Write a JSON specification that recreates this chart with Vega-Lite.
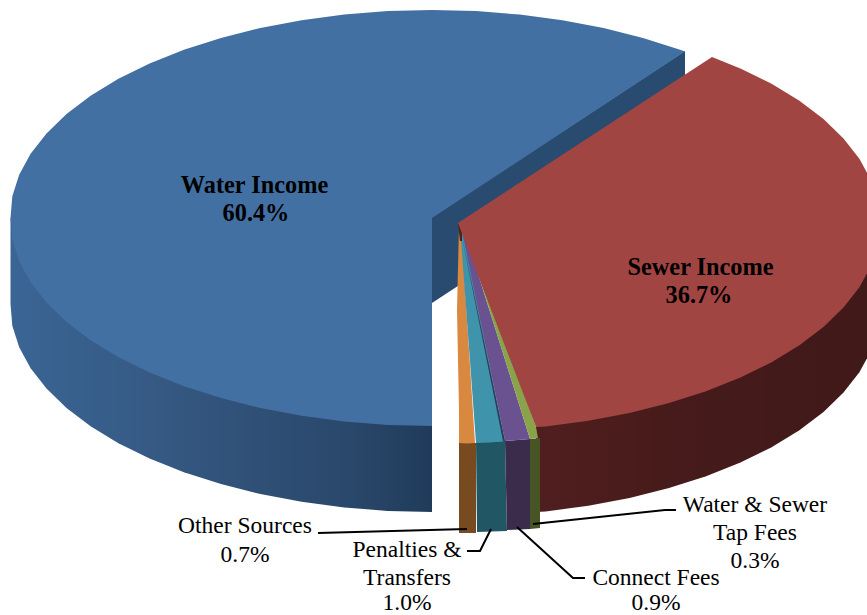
{
"$schema":"https://vega.github.io/schema/vega-lite/v6.json",
"width":867,"height":615,"padding":0,"autosize":{"type":"none"},"background":"white",
"config":{"view":{"stroke":null}},
"datasets":{
"blueSide":[
{"i":0,"x":10.5,"y":218},{"i":1,"x":10.5,"y":304},{"i":2,"x":12.3,"y":325.7},{"i":3,"x":19.2,"y":347.2},{"i":4,"x":30.6,"y":368.3},{"i":5,"x":46.5,"y":388.6},{"i":6,"x":66.5,"y":408},{"i":7,"x":90.6,"y":426.3},{"i":8,"x":118.4,"y":443.2},{"i":9,"x":149.6,"y":458.6},{"i":10,"x":183.9,"y":472.3},{"i":11,"x":221,"y":484.1},{"i":12,"x":260.4,"y":494},{"i":13,"x":301.6,"y":501.8},{"i":14,"x":344.3,"y":507.4},{"i":15,"x":387.9,"y":510.9},{"i":16,"x":432,"y":512},{"i":17,"x":432,"y":400}],
"redSide":[
{"i":0,"x":536,"y":400},{"i":1,"x":536,"y":512},{"i":2,"x":545.7,"y":511.4},{"i":3,"x":588.4,"y":505.8},{"i":4,"x":629.6,"y":498},{"i":5,"x":669,"y":488.1},{"i":6,"x":706.1,"y":476.3},{"i":7,"x":740.4,"y":462.6},{"i":8,"x":771.6,"y":447.2},{"i":9,"x":799.4,"y":430.3},{"i":10,"x":823.5,"y":412},{"i":11,"x":843.5,"y":392.6},{"i":12,"x":859.4,"y":372.3},{"i":13,"x":870.8,"y":351.2},{"i":14,"x":877.7,"y":329.7},{"i":15,"x":880,"y":308},{"i":16,"x":880,"y":223}],
"faces":[
{"face":"water wall","i":0,"x":432,"y":217},{"face":"water wall","i":1,"x":685,"y":51},{"face":"water wall","i":2,"x":685,"y":137},{"face":"water wall","i":3,"x":432,"y":303},
{"face":"water top","i":0,"x":432,"y":218},{"face":"water top","i":1,"x":685,"y":51.5},{"face":"water top","i":2,"x":680.1,"y":49.7},{"face":"water top","i":3,"x":643,"y":37.9},{"face":"water top","i":4,"x":603.6,"y":28},{"face":"water top","i":5,"x":562.4,"y":20.2},{"face":"water top","i":6,"x":519.7,"y":14.6},{"face":"water top","i":7,"x":476.1,"y":11.1},{"face":"water top","i":8,"x":432,"y":10},{"face":"water top","i":9,"x":387.9,"y":11.1},{"face":"water top","i":10,"x":344.3,"y":14.6},{"face":"water top","i":11,"x":301.6,"y":20.2},{"face":"water top","i":12,"x":260.4,"y":28},{"face":"water top","i":13,"x":221,"y":37.9},{"face":"water top","i":14,"x":183.9,"y":49.7},{"face":"water top","i":15,"x":149.6,"y":63.4},{"face":"water top","i":16,"x":118.4,"y":78.8},{"face":"water top","i":17,"x":90.6,"y":95.7},{"face":"water top","i":18,"x":66.5,"y":114},{"face":"water top","i":19,"x":46.5,"y":133.4},{"face":"water top","i":20,"x":30.6,"y":153.7},{"face":"water top","i":21,"x":19.2,"y":174.8},{"face":"water top","i":22,"x":12.3,"y":196.3},{"face":"water top","i":23,"x":10.5,"y":218},{"face":"water top","i":24,"x":12.3,"y":239.7},{"face":"water top","i":25,"x":19.2,"y":261.2},{"face":"water top","i":26,"x":30.6,"y":282.3},{"face":"water top","i":27,"x":46.5,"y":302.6},{"face":"water top","i":28,"x":66.5,"y":322},{"face":"water top","i":29,"x":90.6,"y":340.3},{"face":"water top","i":30,"x":118.4,"y":357.2},{"face":"water top","i":31,"x":149.6,"y":372.6},{"face":"water top","i":32,"x":183.9,"y":386.3},{"face":"water top","i":33,"x":221,"y":398.1},{"face":"water top","i":34,"x":260.4,"y":408},{"face":"water top","i":35,"x":301.6,"y":415.8},{"face":"water top","i":36,"x":344.3,"y":421.4},{"face":"water top","i":37,"x":387.9,"y":424.9},{"face":"water top","i":38,"x":432,"y":426},
{"face":"other side","i":0,"x":459,"y":443},{"face":"other side","i":1,"x":459,"y":533},{"face":"other side","i":2,"x":476,"y":533},{"face":"other side","i":3,"x":476,"y":443},
{"face":"penalties side","i":0,"x":476,"y":442},{"face":"penalties side","i":1,"x":477,"y":532},{"face":"penalties side","i":2,"x":507,"y":531},{"face":"penalties side","i":3,"x":505,"y":441},
{"face":"connect side","i":0,"x":505,"y":441},{"face":"connect side","i":1,"x":507,"y":530},{"face":"connect side","i":2,"x":530,"y":529},{"face":"connect side","i":3,"x":530,"y":439},
{"face":"tap side","i":0,"x":530,"y":439},{"face":"tap side","i":1,"x":530,"y":529},{"face":"tap side","i":2,"x":540,"y":528},{"face":"tap side","i":3,"x":540,"y":438},
{"face":"other top","i":0,"x":459,"y":226},{"face":"other top","i":1,"x":457,"y":310},{"face":"other top","i":2,"x":459,"y":410},{"face":"other top","i":3,"x":459,"y":443},{"face":"other top","i":4,"x":467,"y":443.5},{"face":"other top","i":5,"x":475,"y":443},{"face":"other top","i":6,"x":461,"y":226},
{"face":"penalties top","i":0,"x":460,"y":226},{"face":"penalties top","i":1,"x":476,"y":443},{"face":"penalties top","i":2,"x":490,"y":442.5},{"face":"penalties top","i":3,"x":505,"y":441},{"face":"penalties top","i":4,"x":462,"y":226},
{"face":"connect top","i":0,"x":461,"y":226},{"face":"connect top","i":1,"x":505,"y":441},{"face":"connect top","i":2,"x":518,"y":440},{"face":"connect top","i":3,"x":530,"y":439},{"face":"connect top","i":4,"x":463,"y":226},
{"face":"tap top","i":0,"x":463,"y":226},{"face":"tap top","i":1,"x":530,"y":439},{"face":"tap top","i":2,"x":538,"y":438},{"face":"tap top","i":3,"x":536,"y":427},
{"face":"seam","i":0,"x":461,"y":232},{"face":"seam","i":1,"x":505,"y":441},{"face":"seam","i":2,"x":503,"y":441},
{"face":"hub","i":0,"x":458,"y":224},{"face":"hub","i":1,"x":462,"y":226},{"face":"hub","i":2,"x":462,"y":241},{"face":"hub","i":3,"x":460,"y":241},
{"face":"sewer top","i":0,"x":458,"y":223},{"face":"sewer top","i":1,"x":712,"y":57},{"face":"sewer top","i":2,"x":740.4,"y":68.4},{"face":"sewer top","i":3,"x":771.6,"y":83.8},{"face":"sewer top","i":4,"x":799.4,"y":100.7},{"face":"sewer top","i":5,"x":823.5,"y":119},{"face":"sewer top","i":6,"x":843.5,"y":138.4},{"face":"sewer top","i":7,"x":859.4,"y":158.7},{"face":"sewer top","i":8,"x":870.8,"y":179.8},{"face":"sewer top","i":9,"x":877.7,"y":201.3},{"face":"sewer top","i":10,"x":880,"y":223},{"face":"sewer top","i":11,"x":877.7,"y":244.7},{"face":"sewer top","i":12,"x":870.8,"y":266.2},{"face":"sewer top","i":13,"x":859.4,"y":287.3},{"face":"sewer top","i":14,"x":843.5,"y":307.6},{"face":"sewer top","i":15,"x":823.5,"y":327},{"face":"sewer top","i":16,"x":799.4,"y":345.3},{"face":"sewer top","i":17,"x":771.6,"y":362.2},{"face":"sewer top","i":18,"x":740.4,"y":377.6},{"face":"sewer top","i":19,"x":706.1,"y":391.3},{"face":"sewer top","i":20,"x":669,"y":403.1},{"face":"sewer top","i":21,"x":629.6,"y":413},{"face":"sewer top","i":22,"x":588.4,"y":420.8},{"face":"sewer top","i":23,"x":545.7,"y":426.4},{"face":"sewer top","i":24,"x":536,"y":427}
],
"leaders":[
{"leader":"other","i":0,"x":318,"y":533},{"leader":"other","i":1,"x":467,"y":529},
{"leader":"penalties","i":0,"x":467,"y":551},{"leader":"penalties","i":1,"x":480,"y":551},{"leader":"penalties","i":2,"x":491,"y":529},
{"leader":"connect","i":0,"x":585,"y":578},{"leader":"connect","i":1,"x":573,"y":578},{"leader":"connect","i":2,"x":517,"y":527},
{"leader":"tap","i":0,"x":676,"y":510},{"leader":"tap","i":1,"x":665,"y":510},{"leader":"tap","i":2,"x":533,"y":524}
],
"insideLabels":[
{"text":"Water Income","x":254.5,"y":193},{"text":"60.4%","x":256,"y":221},
{"text":"Sewer Income","x":700.5,"y":275},{"text":"36.7%","x":699,"y":303}
],
"outsideLabels":[
{"text":"Other Sources","x":245,"y":533},{"text":"0.7%","x":245,"y":562},
{"text":"Penalties &","x":407,"y":557},{"text":"Transfers","x":407,"y":585},{"text":"1.0%","x":407,"y":610},
{"text":"Connect Fees","x":656,"y":585},{"text":"0.9%","x":656,"y":610},
{"text":"Water & Sewer","x":755,"y":512},{"text":"Tap Fees","x":755,"y":540},{"text":"0.3%","x":755,"y":568}
]
},
"encoding":{
"x":{"field":"x","type":"quantitative","axis":null,"scale":{"domain":[0,867],"nice":false,"zero":false}},
"y":{"field":"y","type":"quantitative","axis":null,"scale":{"domain":[0,615],"reverse":true,"nice":false,"zero":false}}
},
"layer":[
{"data":{"name":"blueSide"},
 "mark":{"type":"line","clip":true,"strokeWidth":0,"fill":{"gradient":"linear","x1":0,"x2":1,"y1":0,"y2":0,"stops":[{"offset":0,"color":"#3A6594"},{"offset":0.3,"color":"#365B86"},{"offset":0.6,"color":"#2F4F75"},{"offset":0.8,"color":"#2A486B"},{"offset":1,"color":"#203B5A"}]}},
 "encoding":{"order":{"field":"i"}}},
{"data":{"name":"redSide"},
 "mark":{"type":"line","clip":true,"strokeWidth":0,"fill":{"gradient":"linear","x1":0,"x2":1,"y1":0,"y2":0,"stops":[{"offset":0,"color":"#501E1E"},{"offset":0.5,"color":"#451A1A"},{"offset":1,"color":"#401919"}]}},
 "encoding":{"order":{"field":"i"}}},
{"data":{"name":"faces"},
 "mark":{"type":"line","clip":true,"filled":true,"strokeWidth":0},
 "encoding":{
  "order":{"field":"i"},
  "detail":{"field":"face"},
  "color":{"field":"face","type":"nominal","legend":null,"sort":null,"scale":{
   "domain":["water wall","water top","other side","penalties side","connect side","tap side","other top","penalties top","connect top","tap top","seam","hub","sewer top"],
   "range":["#2A4B70","#4270A2","#784A20","#215765","#3B2C4C","#465523","#D9883F","#3F93AB","#6A5190","#8AA34A","#2C3C58","#4A2420","#A04542"]}}
 }},
{"data":{"name":"leaders"},
 "mark":{"type":"line","color":"#000000","strokeWidth":2},
 "encoding":{"order":{"field":"i"},"detail":{"field":"leader"}}},
{"data":{"name":"insideLabels"},
 "mark":{"type":"text","font":"Liberation Serif","fontWeight":"bold","fontSize":24.3,"align":"center","baseline":"alphabetic","color":"#000000"},
 "encoding":{"text":{"field":"text"}}},
{"data":{"name":"outsideLabels"},
 "mark":{"type":"text","font":"Liberation Serif","fontSize":23.5,"align":"center","baseline":"alphabetic","color":"#000000"},
 "encoding":{"text":{"field":"text"}}}
]
}
